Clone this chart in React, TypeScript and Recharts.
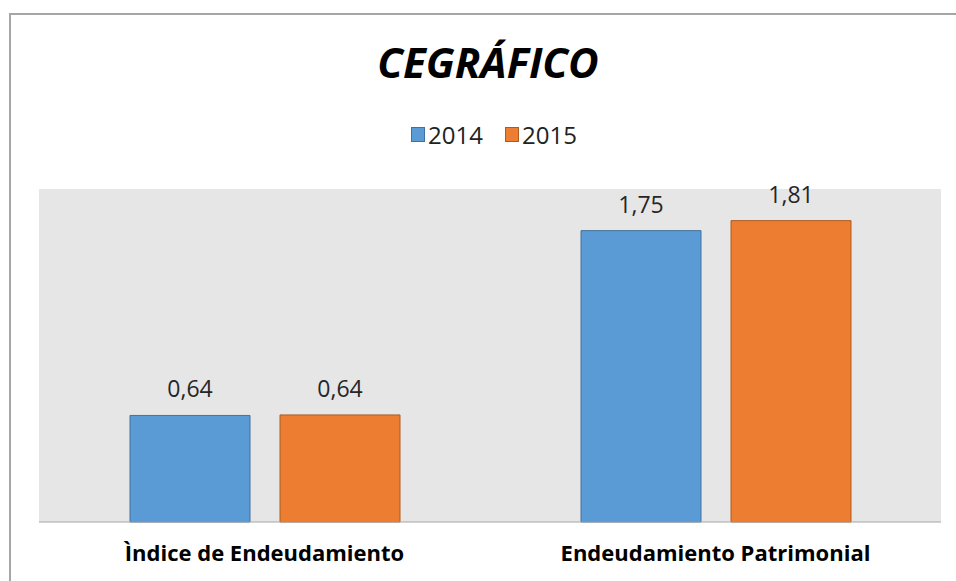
import React from 'react';
import { BarChart, Bar, XAxis, YAxis, CartesianGrid, Legend, LabelList } from 'recharts';

const categories = ['Ìndice de Endeudamiento', 'Endeudamiento Patrimonial'];
const values2014 = [0.64, 1.75];
const values2015 = [0.643, 1.81];
const seriesNames = ['2014', '2015'];

const COLORS = ['#5b9bd5', '#ed7d31'];
const BORDERS = ['#41719c', '#ae5a21'];

const FONT = '"Open Sans", "Noto Sans", sans-serif';

const data = categories.map((name, i) => ({
  name,
  y2014: values2014[i],
  y2015: values2015[i],
}));

const fmt = (v: number) => v.toFixed(2).replace('.', ',');

const LegendContent = () => (
  <div
    style={{
      display: 'flex',
      justifyContent: 'center',
      alignItems: 'center',
      fontFamily: FONT,
      fontSize: 24,
      color: '#222',
    }}
  >
    {seriesNames.map((s, idx) => (
      <div key={s} style={{ display: 'flex', alignItems: 'center', marginRight: idx === 0 ? 22 : 0 }}>
        <span
          style={{
            display: 'inline-block',
            width: 12,
            height: 13,
            background: COLORS[idx],
            border: `1px solid ${BORDERS[idx]}`,
            marginRight: 3,
          }}
        />
        <span>{s}</span>
      </div>
    ))}
  </div>
);

const App: React.FC = () => {
  return (
    <div style={{ position: 'absolute', left: 0, top: 0, width: 956, height: 581, background: '#fff', overflow: 'hidden' }}>
      <div
        style={{
          position: 'absolute',
          left: 9,
          top: 13,
          width: 960,
          height: 580,
          borderTop: '2px solid #a6a6a6',
          borderLeft: '2px solid #a6a6a6',
        }}
      />
      <div
        style={{
          position: 'absolute',
          left: 0,
          top: 34,
          width: 976,
          textAlign: 'center',
          fontFamily: FONT,
          fontSize: 42,
          fontWeight: 700,
          fontStyle: 'italic',
          color: '#000',
          lineHeight: '56px',
        }}
      >
        CEGRÁFICO
      </div>
      <div style={{ position: 'absolute', left: 0, top: 0 }}>
        <BarChart
          width={956}
          height={581}
          data={data}
          margin={{ top: 189, right: 15, left: 39, bottom: 29 }}
          barSize={120}
          barGap={30}
        >
          <CartesianGrid horizontal={false} vertical={false} fill="#e7e6e6" fillOpacity={1} stroke="none" />
          <XAxis
            dataKey="name"
            height={30}
            axisLine={{ stroke: '#a6a6a6', strokeWidth: 1 }}
            tickLine={false}
            tickMargin={17}
            tick={{ fontFamily: FONT, fontSize: 22, fontWeight: 700, fill: '#000' }}
          />
          <YAxis hide domain={[0, 2]} />
          <Legend
            verticalAlign="middle"
            align="center"
            layout="horizontal"
            content={<LegendContent />}
            wrapperStyle={{ top: 118, left: 0, width: 988 }}
          />
          <Bar dataKey="y2014" name={seriesNames[0]} fill={COLORS[0]} stroke={BORDERS[0]} strokeWidth={1} isAnimationActive={false}>
            <LabelList
              dataKey="y2014"
              position="top"
              offset={18}
              formatter={(v: number) => fmt(v)}
              style={{ fontFamily: FONT, fontSize: 23, fill: '#262626' }}
            />
          </Bar>
          <Bar dataKey="y2015" name={seriesNames[1]} fill={COLORS[1]} stroke={BORDERS[1]} strokeWidth={1} isAnimationActive={false}>
            <LabelList
              dataKey="y2015"
              position="top"
              offset={18}
              formatter={(v: number) => fmt(v)}
              style={{ fontFamily: FONT, fontSize: 23, fill: '#262626' }}
            />
          </Bar>
        </BarChart>
      </div>
    </div>
  );
};

export default App;
